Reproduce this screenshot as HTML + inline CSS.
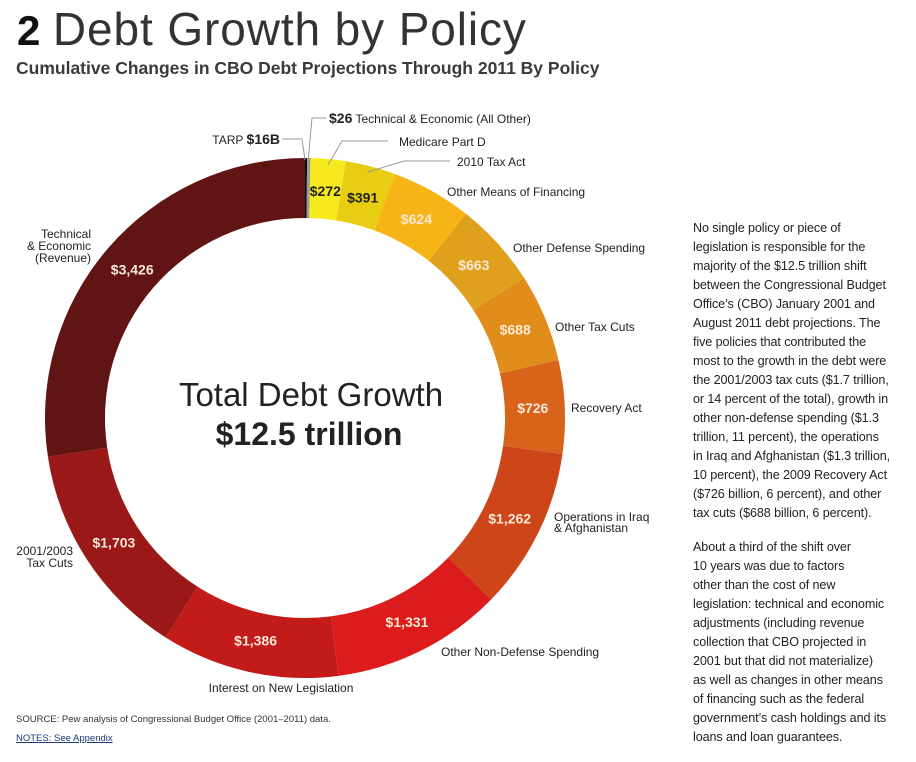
<!DOCTYPE html>
<html><head><meta charset="utf-8"><style>
html,body{margin:0;padding:0;background:#fff;width:916px;height:762px;overflow:hidden;font-family:"Liberation Sans",sans-serif;}
#wrap{position:relative;width:916px;height:762px;}
.t{position:absolute;}
#desc{position:absolute;left:693px;top:219px;width:220px;font-size:12.6px;line-height:19px;color:#222;white-space:nowrap;letter-spacing:-0.1px;}
#desc p{margin:0 0 15px 0;}
</style></head><body>
<div id="wrap">
<div class="t" style="left:17px;top:2px;font-size:45px;color:#111;white-space:nowrap;"><b style="font-size:42px">2</b> <span style="font-weight:300;color:#333;letter-spacing:0.9px;font-size:46px">Debt Growth by Policy</span></div>
<div class="t" style="left:16px;top:58px;font-size:17.5px;font-weight:bold;color:#3a3a3a;white-space:nowrap;">Cumulative Changes in CBO Debt Projections Through 2011 By Policy</div>
<svg id="chart" width="916" height="762" style="position:absolute;left:0;top:0" font-family="Liberation Sans, sans-serif"></svg>
<div id="desc">
<p>No single policy or piece of<br>legislation is responsible for the<br>majority of the $12.5 trillion shift<br>between the Congressional Budget<br>Office’s (CBO) January 2001 and<br>August 2011 debt projections. The<br>five policies that contributed the<br>most to the growth in the debt were<br>the 2001/2003 tax cuts ($1.7 trillion,<br>or 14 percent of the total), growth in<br>other non-defense spending ($1.3<br>trillion, 11 percent), the operations<br>in Iraq and Afghanistan ($1.3 trillion,<br>10 percent), the 2009 Recovery Act<br>($726 billion, 6 percent), and other<br>tax cuts ($688 billion, 6 percent).</p>
<p>About a third of the shift over<br>10 years was due to factors<br>other than the cost of new<br>legislation: technical and economic<br>adjustments (including revenue<br>collection that CBO projected in<br>2001 but that did not materialize)<br>as well as changes in other means<br>of financing such as the federal<br>government’s cash holdings and its<br>loans and loan guarantees.</p>
</div>
<div class="t" style="left:16px;top:714px;font-size:9.5px;color:#333;">SOURCE: Pew analysis of Congressional Budget Office (2001–2011) data.</div>
<div class="t" style="left:16px;top:733px;font-size:9.5px;color:#1a3a7a;text-decoration:underline;">NOTES: See Appendix</div>
</div>
<script>
const categories = ["TARP","Technical & Economic (All Other)","Medicare Part D","2010 Tax Act","Other Means of Financing","Other Defense Spending","Other Tax Cuts","Recovery Act","Operations in Iraq & Afghanistan","Other Non-Defense Spending","Interest on New Legislation","2001/2003 Tax Cuts","Technical & Economic (Revenue)"];
const values = [16,26,272,391,624,663,688,726,1262,1331,1386,1703,3426];
const valueLabels = ["","","$272","$391","$624","$663","$688","$726","$1,262","$1,331","$1,386","$1,703","$3,426"];
const colors = ["#111111","#9a9a9a","#f6ea1e","#e9cd12","#f7b417","#dfa11c","#e08d1c","#d8641c","#cd4518","#dc1c1c","#c31a1a","#9b1818","#611414"];
const svg = document.getElementById('chart');
const NS = "http://www.w3.org/2000/svg";
const cx = 305, cy = 418, R = 260, r = 200;
const total = values.reduce((a,b)=>a+b,0);
function ang(v){ return v/total*2*Math.PI; }
function pt(a,rad){ return [cx+rad*Math.sin(a), cy-rad*Math.cos(a)]; }
let acc = 0;
values.forEach((v,i)=>{
  const a0 = ang(acc), a1 = ang(acc+v); acc += v;
  const large = (a1-a0) > Math.PI ? 1 : 0;
  const p0 = pt(a0,R), p1 = pt(a1,R), q1 = pt(a1,r), q0 = pt(a0,r);
  const path = document.createElementNS(NS,'path');
  path.setAttribute('d',`M${p0[0]},${p0[1]} A${R},${R} 0 ${large} 1 ${p1[0]},${p1[1]} L${q1[0]},${q1[1]} A${r},${r} 0 ${large} 0 ${q0[0]},${q0[1]} Z`);
  path.setAttribute('fill',colors[i]);
  
  
  svg.appendChild(path);
  if(valueLabels[i]){
    const m = (a0+a1)/2;
    const lp = pt(m,228);
    const t = document.createElementNS(NS,'text');
    t.setAttribute('x',lp[0]); t.setAttribute('y',lp[1]+5);
    t.setAttribute('text-anchor','middle');
    t.setAttribute('font-size','14'); t.setAttribute('font-weight','bold');
    t.setAttribute('fill', i<=3 ? '#222' : '#fbe9d8');
    t.textContent = valueLabels[i];
    
    
    svg.appendChild(t);
  }
});
function txt(x,y,s,anchor,size,weight,name){
  const t=document.createElementNS(NS,'text');
  t.setAttribute('x',x);t.setAttribute('y',y);t.setAttribute('text-anchor',anchor||'start');
  t.setAttribute('font-size',size||12);if(weight)t.setAttribute('font-weight',weight);
  t.setAttribute('fill','#222');t.innerHTML=s;
  
  
  svg.appendChild(t);return t;
}
function line(d){
  const p=document.createElementNS(NS,'path');p.setAttribute('d',d);p.setAttribute('stroke','#999');p.setAttribute('fill','none');p.setAttribute('stroke-width','1');
  
  
  svg.appendChild(p);
}
txt(280,144,'TARP <tspan font-weight="bold" font-size="14">$16B</tspan>','end',12,null,'tarp-label');
line('M282,139 L302,139 L305,160');
txt(329,123,'<tspan font-weight="bold" font-size="14">$26</tspan> Technical &amp; Economic (All Other)','start',12,null,'tech-other-label');
line('M326,118 L312,118 L308,162');
txt(399,146,'Medicare Part D','start',12);
line('M388,141 L342,141 L328,165');
txt(457,166,'2010 Tax Act','start',12);
line('M450,161 L404,161 L368,172');
txt(447,196,'Other Means of Financing','start',12);
txt(513,252,'Other Defense Spending','start',12);
txt(555,331,'Other Tax Cuts','start',12);
txt(571,412,'Recovery Act','start',12);
txt(554,521,'Operations in Iraq','start',12);
txt(554,532,'&amp; Afghanistan','start',12);
txt(441,656,'Other Non-Defense Spending','start',12);
txt(281,692,'Interest on New Legislation','middle',12);
txt(91,238,'Technical','end',12);
txt(91,250,'&amp; Economic','end',12);
txt(91,262,'(Revenue)','end',12);
txt(73,555,'2001/2003','end',12);
txt(73,567,'Tax Cuts','end',12);
txt(311,406,'Total Debt Growth','middle',33,null,'center-title');
txt(309,445,'$12.5 trillion','middle',32,'bold','center-total');
</script>
</body></html>
